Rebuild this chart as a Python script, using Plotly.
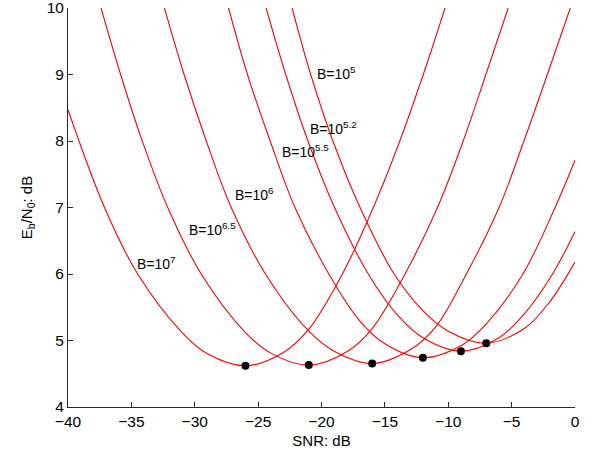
import plotly.graph_objects as go

# Curves (SNR dB, Eb/N0 dB)
b7_x = [-40, -37.12, -34.5, -31.0, -29.0, -26.0, -23.0, -21.0, -18.35, -15.91, -13.82, -11.97, -10.25]
b7_y = [8.47, 7.0, 6.0, 5.12, 4.80, 4.62, 4.82, 5.17, 6.0, 7.0, 8.0, 9.0, 10.0]

b65_x = [-37.39, -35.85, -34.14, -32.13, -29.49, -26.0, -24.0, -21.0, -18.0, -16.0, -13.41, -10.85, -8.82, -7.03, -5.27]
b65_y = [10, 9, 8, 7, 6, 5.12, 4.81, 4.63, 4.83, 5.18, 6, 7, 8, 9, 10]

b6_x = [-32.39, -30.84, -29.09, -27.12, -24.42, -21.0, -19.0, -16.0, -13.0, -11.0, -8.57, -5.99, -4.03, -2.18, -0.37]
b6_y = [10, 9, 8, 7, 6, 5.14, 4.84, 4.655, 4.86, 5.20, 6, 7, 8, 9, 10]

b55_x = [-27.33, -25.84, -24.05, -22.09, -19.42, -17.0, -15.0, -12.0, -9.0, -7.0, -4.11, -1.57, 0]
b55_y = [10, 9, 8, 7, 6, 5.30, 4.95, 4.74, 4.92, 5.25, 6, 7, 7.71]

b52_x = [-24.37, -22.82, -21.07, -18.97, -16.31, -14.0, -12.0, -9.0, -6.0, -4.0, -1.77, 0]
b52_y = [10, 9, 8, 7, 6, 5.38, 5.04, 4.84, 5.04, 5.40, 6, 6.64]

b5_x = [-22.32, -20.85, -19.1, -16.96, -14.27, -12.0, -10.0, -7.0, -4.0, -2.0, 0]
b5_y = [10, 9, 8, 7, 6, 5.45, 5.14, 4.96, 5.18, 5.58, 6.18]

min_x = [-26, -21, -16, -12, -9, -7]
min_y = [4.62, 4.63, 4.655, 4.74, 4.84, 4.96]

label_text = ["B=10<sup>7</sup>", "B=10<sup>6.5</sup>", "B=10<sup>6</sup>",
              "B=10<sup>5.5</sup>", "B=10<sup>5.2</sup>", "B=10<sup>5</sup>"]
label_x = [-34.74, -30.58, -27.02, -23.24, -21.1, -20.5]
label_y = [6.17, 6.67, 7.20, 7.85, 8.19, 9.02]

x_ticks = [-40, -35, -30, -25, -20, -15, -10, -5, 0]
y_ticks = [4, 5, 6, 7, 8, 9, 10]

FONT = "Liberation Sans, Arial, Helvetica, sans-serif"
AX = "#262626"

fig = go.Figure()
for xs, ys in [(b7_x, b7_y), (b65_x, b65_y), (b6_x, b6_y), (b55_x, b55_y), (b52_x, b52_y), (b5_x, b5_y)]:
    fig.add_trace(go.Scatter(x=xs, y=ys, mode="lines",
                             line=dict(color="#ff0000", width=1.1, shape="spline", smoothing=1.0),
                             hoverinfo="skip", showlegend=False))

fig.add_trace(go.Scatter(x=min_x, y=min_y, mode="markers",
                         marker=dict(color="black", size=8), showlegend=False))

for t, lx, ly in zip(label_text, label_x, label_y):
    fig.add_annotation(x=lx, y=ly, text=t, showarrow=False, xanchor="left", yanchor="middle",
                       font=dict(family=FONT, size=14, color="black"))

fig.update_layout(
    width=599, height=453,
    margin=dict(l=68, r=24, t=8, b=46),
    paper_bgcolor="white", plot_bgcolor="white",
    font=dict(family=FONT, size=15, color=AX),
    showlegend=False,
)
fig.update_xaxes(range=[-40, 0], tickvals=x_ticks, ticks="inside", ticklen=5, tickcolor=AX,
                 showline=True, linecolor=AX, linewidth=1, showgrid=False, zeroline=False,
                 ticklabeloverflow="allow", automargin=False,
                 title=dict(text="SNR: dB", font=dict(family=FONT, size=15, color="black"), standoff=6),
                 tickfont=dict(family=FONT, size=15.5, color="black"))
fig.update_yaxes(range=[4, 10], tickvals=y_ticks, ticks="inside", ticklen=5, tickcolor=AX,
                 showline=True, linecolor=AX, linewidth=1, showgrid=False, zeroline=False,
                 ticklabeloverflow="allow", automargin=False,
                 title=dict(text="E<sub>b</sub>/N<sub>0</sub>: dB", font=dict(family=FONT, size=15, color="black"), standoff=10),
                 tickfont=dict(family=FONT, size=15.5, color="black"))

fig.write_html("out.html")
